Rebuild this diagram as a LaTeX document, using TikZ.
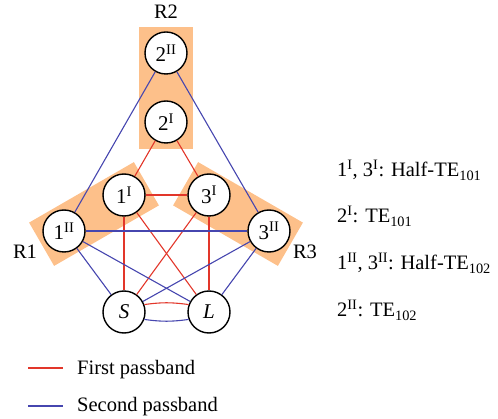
\documentclass[tikz,border=0pt]{standalone}
\usepackage{fontspec}
\setmainfont{Liberation Serif}
\usetikzlibrary{positioning}
\definecolor{regcolor}{RGB}{253,192,138}
\definecolor{passone}{RGB}{226,54,42}
\definecolor{passtwo}{RGB}{70,70,175}

\tikzset{
  resnode/.style={circle, draw, fill=white, line width=1.4pt, minimum size=42pt, inner sep=0pt, font=\fontsize{21}{25}\selectfont},
  regbox/.style={fill=regcolor, inner sep=0pt},
  firstpass/.style={passone, line width=1.1pt},
  secondpass/.style={passtwo, line width=1.1pt},
  txt/.style={font=\fontsize{20.5}{24}\selectfont, inner sep=0pt},
}

\begin{document}
\begin{tikzpicture}[x=1pt,y=1pt]
    \useasboundingbox (0,0) rectangle (498,-419);
    % resonator regions
    \node[regbox, minimum width=54pt, minimum height=122pt] (R2box) at (166,-88) {};
    \node[regbox, minimum width=121pt, minimum height=50pt, rotate=30] (R1box) at (94,-214) {};
    \node[regbox, minimum width=121pt, minimum height=50pt, rotate=-30] (R3box) at (238,-214) {};
    \node[txt, anchor=base] (R2) at (166,-19) {R2};
    \node[txt, anchor=base] (R1) at (25,-259) {R1};
    \node[txt, anchor=base] (R3) at (305,-259) {R3};
    % resonators
    \node[resnode] (r2b) at (166,-53) {2\textsuperscript{II}};
    \node[resnode] (r2a) at (166,-122) {2\textsuperscript{I}};
    \node[resnode] (r1a) at (124,-195) {1\textsuperscript{I}};
    \node[resnode] (r3a) at (209,-195) {3\textsuperscript{I}};
    \node[resnode] (r1b) at (64,-231) {1\textsuperscript{II}};
    \node[resnode] (r3b) at (269,-231) {3\textsuperscript{II}};
    \node[resnode] (S) at (124,-312) {\textit{S}};
    \node[resnode] (L) at (209,-312) {\textit{L}};
    % first passband paths
    \draw[firstpass] (r2a) -- (r1a);
    \draw[firstpass] (r2a) -- (r3a);
    \draw[firstpass] (r1a) -- (r3a);
    \draw[firstpass] (r1a) -- (S);
    \draw[firstpass] (r1a) -- (L);
    \draw[firstpass] (r3a) -- (S);
    \draw[firstpass] (r3a) -- (L);
    \draw[firstpass] (S.20) to[bend left=8] (L.160);
    % second passband paths
    \draw[secondpass] (r2b) -- (r1b);
    \draw[secondpass] (r2b) -- (r3b);
    \draw[secondpass] (r1b) -- (r3b);
    \draw[secondpass] (r1b) -- (S);
    \draw[secondpass] (r1b) -- (L);
    \draw[secondpass] (r3b) -- (S);
    \draw[secondpass] (r3b) -- (L);
    \draw[secondpass] (S.-20) to[bend right=8] (L.-160);
    % mode list
    \node[txt, anchor=base west] (mode1) at (337,-177) {1\textsuperscript{I}, 3\textsuperscript{I}: Half-TE\textsubscript{101}};
    \node[txt, anchor=base west] (mode2) at (337,-223) {2\textsuperscript{I}: TE\textsubscript{101}};
    \node[txt, anchor=base west] (mode3) at (337,-270) {1\textsuperscript{II}, 3\textsuperscript{II}: Half-TE\textsubscript{102}};
    \node[txt, anchor=base west] (mode4) at (337,-317) {2\textsuperscript{II}: TE\textsubscript{102}};
    % legend
    \coordinate (lg1a) at (28,-368);
    \coordinate (lg1b) at (63,-368);
    \coordinate (lg2a) at (28,-406);
    \coordinate (lg2b) at (63,-406);
    \draw[firstpass] (lg1a) -- (lg1b);
    \draw[secondpass] (lg2a) -- (lg2b);
    \node[txt, anchor=base west] (lg1) at (77,-375) {First passband};
    \node[txt, anchor=base west] (lg2) at (77,-412) {Second passband};
\end{tikzpicture}
\end{document}
